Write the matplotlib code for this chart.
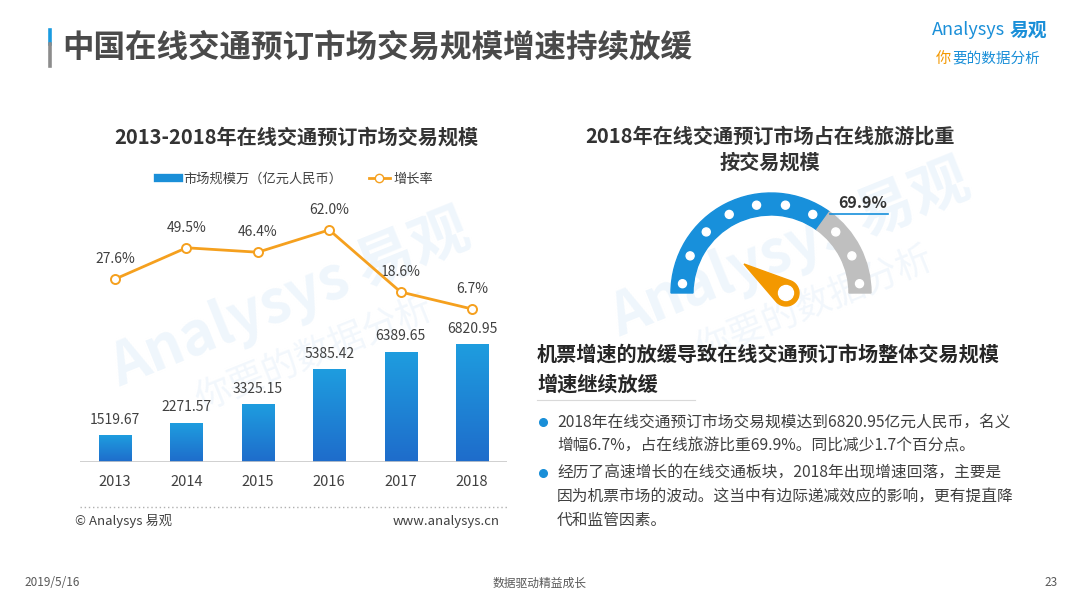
import matplotlib

matplotlib.use("Agg")
import matplotlib.pyplot as plt
import numpy as np
from matplotlib.colors import LinearSegmentedColormap
from matplotlib.lines import Line2D
from matplotlib.patches import Circle, Polygon, Wedge

plt.rcParams["font.family"] = ["Noto Sans CJK SC", "DejaVu Sans"]

# data
years = ["2013", "2014", "2015", "2016", "2017", "2018"]
market_size = [1519.67, 2271.57, 3325.15, 5385.42, 6389.65, 6820.95]
growth_rate = [27.6, 49.5, 46.4, 62.0, 18.6, 6.7]
share_2018 = 69.9

title = "中国在线交通预订市场交易规模增速持续放缓"
left_title = "2013-2018年在线交通预订市场交易规模"
right_title = "2018年在线交通预订市场占在线旅游比重\n按交易规模"
legend_labels = ["市场规模万（亿元人民币）", "增长率"]
heading = "机票增速的放缓导致在线交通预订市场整体交易规模\n增速继续放缓"
bullets = [
    "2018年在线交通预订市场交易规模达到6820.95亿元人民币，名义\n增幅6.7%，占在线旅游比重69.9%。同比减少1.7个百分点。",
    "经历了高速增长的在线交通板块，2018年出现增速回落，主要是\n因为机票市场的波动。这当中有边际递减效应的影响，更有提直降\n代和监管因素。",
]

W, H = 1080, 607
BLUE = "#1a8fd8"
ORANGE = "#f5a01e"
TXT = "#404040"


def fx(x):
    return x / W


def fy(y):
    return 1 - y / H


fig = plt.figure(figsize=(W / 100, H / 100), dpi=100)
fig.patch.set_facecolor("white")

# faint watermarks
for cx, cy in [(290, 300), (790, 250)]:
    fig.text(fx(cx), fy(cy), "Analysys 易观", fontsize=42, fontweight="bold",
             color="#eff6fc", rotation=22, ha="center", va="center", zorder=-2)
    fig.text(fx(cx + 25), fy(cy + 55), "你要的数据分析", fontsize=26, style="italic",
             color="#f2f7fc", rotation=22, ha="center", va="center", zorder=-2)

# header
fig.add_artist(Line2D([fx(49.5), fx(49.5)], [fy(30), fy(44)], color="#1a9be0", lw=2.6))
fig.add_artist(Line2D([fx(49.5), fx(49.5)], [fy(44), fy(66)], color="#8c8c8c", lw=2.6))
fig.text(fx(62), fy(48), title, fontsize=22.7, fontweight="bold", color="#4a4a4a",
         ha="left", va="center")
fig.text(fx(1005), fy(30), "Analysys", fontsize=13, color=BLUE, ha="right", va="center")
fig.text(fx(1047), fy(30), "易观", fontsize=13.5, fontweight="bold", color=BLUE,
         ha="right", va="center")
fig.text(fx(951), fy(58), "你", fontsize=11, style="italic", color="#f39800",
         ha="right", va="center")
fig.text(fx(952), fy(58), "要的数据分析", fontsize=10.5, style="italic", color=BLUE,
         ha="left", va="center")

# left chart: bars + growth line
ax = fig.add_axes([fx(80), fy(462), (507 - 80) / W, (462 - 180) / H])
ax.patch.set_visible(False)
x = np.arange(len(years))
bars = ax.bar(x, market_size, width=0.45, color="none", zorder=2)
cmap = LinearSegmentedColormap.from_list("bar", ["#1f6ccb", "#1e9ddf"])
grad = np.linspace(0, 1, 256).reshape(-1, 1)
for rect in bars:
    x0, w, h = rect.get_x(), rect.get_width(), rect.get_height()
    ax.imshow(grad, cmap=cmap, extent=[x0, x0 + w, 0, h], origin="lower",
              aspect="auto", zorder=2)
for xi, v in zip(x, market_size):
    ax.annotate(f"{v:.2f}", (xi, v), xytext=(0, 16), textcoords="offset pixels",
                ha="center", va="center", fontsize=10, color=TXT)
ax.set_xlim(-0.49, 5.49)
ax.set_ylim(0, 16440)
ax.axhline(0, color="#c8c8c8", lw=1.2, zorder=3)
for s in ax.spines.values():
    s.set_visible(False)
ax.set_yticks([])
ax.set_xticks(x)
ax.set_xticklabels(years, fontsize=10.5, color=TXT)
ax.tick_params(axis="x", length=0, pad=9)

ax2 = ax.twinx()
ax2.plot(x, growth_rate, color=ORANGE, lw=2, marker="o", markersize=6.5,
         markerfacecolor="white", markeredgecolor=ORANGE, markeredgewidth=1.4, zorder=4)
for xi, v in zip(x, growth_rate):
    ax2.annotate(f"{v:.1f}%", (xi, v), xytext=(0, 20), textcoords="offset pixels",
                 ha="center", va="center", fontsize=10, color=TXT)
ax2.set_ylim(-100.3, 96.9)
ax2.set_yticks([])
for s in ax2.spines.values():
    s.set_visible(False)

handles = [
    Line2D([], [], color="#1a8fd8", lw=6),
    Line2D([], [], color=ORANGE, lw=2, marker="o", markersize=6,
           markerfacecolor="white", markeredgecolor=ORANGE),
]
fig.legend(handles, legend_labels, loc="center", bbox_to_anchor=(fx(296), fy(179)),
           ncol=2, frameon=False, fontsize=9.5, handlelength=1.6, handletextpad=0.3,
           columnspacing=2.0, labelcolor=TXT)

fig.text(fx(296), fy(137), left_title, fontsize=14.5, fontweight="bold", color="#333333",
         ha="center", va="center")
fig.add_artist(Line2D([fx(80), fx(507)], [fy(507), fy(507)], color="#b0b0b0",
                      lw=1, ls=(0, (1, 2))))
fig.text(fx(75), fy(521), "© Analysys 易观", fontsize=9.5, color=TXT, ha="left", va="center")
fig.text(fx(500), fy(521), "www.analysys.cn", fontsize=9.5, color=TXT, ha="right", va="center")

# right: gauge
fig.text(fx(770), fy(149), right_title, fontsize=14.5, fontweight="bold", color="#333333",
         ha="center", va="center", linespacing=1.25)
gx = fig.add_axes([fx(640), fy(320), 300 / W, 140 / H])
gx.set_xlim(-131, 169)
gx.set_ylim(-27, 113)
gx.set_aspect("equal")
gx.axis("off")
r_out, r_in = 100, 78
split = 180 * (1 - share_2018 / 100)
gx.add_patch(Wedge((0, 0), r_out, split, 180, width=r_out - r_in, color="#1890db"))
gx.add_patch(Wedge((0, 0), r_out, 0, split, width=r_out - r_in, color="#bfbfbf"))
for a in np.radians(np.linspace(6, 174, 10)):
    gx.add_patch(Circle((89 * np.cos(a), 89 * np.sin(a)), 4, color="white"))
sx, sy = r_out * np.cos(np.radians(split)), r_out * np.sin(np.radians(split))
gx.plot([sx, 117], [sy - 2, sy - 2], color="#1890db", lw=1.2)
gx.text(116, sy + 1, f"{share_2018:.1f}%", fontsize=11.5, fontweight="bold", color="#333333",
        ha="right", va="bottom")

# needle
tip = np.array([-27.0, 29.0])
hub = np.array([15.0, 0.0])
hr = 13.0
d = tip - hub
L = np.hypot(*d)
base = np.arctan2(d[1], d[0])
half = np.arccos(hr / L)
arc = np.linspace(base + half, base + 2 * np.pi - half, 60)
pts = np.column_stack([hub[0] + hr * np.cos(arc), hub[1] + hr * np.sin(arc)])
pts = np.vstack([pts, tip])
gx.add_patch(Polygon(pts, closed=True, color="#f39800"))
gx.add_patch(Circle(tuple(hub), 7.5, color="white"))

# right text block
fig.text(fx(537), fy(369), heading, fontsize=14.5, fontweight="bold", color="#262626",
         ha="left", va="center", linespacing=1.55)
fig.add_artist(Line2D([fx(537), fx(695)], [fy(400), fy(400)], color="#d9d9d9", lw=0.8))
for by, txt in zip([422, 473], bullets):
    fig.add_artist(Line2D([fx(543)], [fy(by)], marker="o", markersize=5.5,
                          color="#1a8fd8", lw=0))
    fig.text(fx(557), fy(by - 8), txt, fontsize=11.3, color=TXT, ha="left", va="top",
             linespacing=1.5)

# footer
fig.text(fx(24), fy(583), "2019/5/16", fontsize=8.5, color="#595959", ha="left", va="center")
fig.text(fx(540), fy(583), "数据驱动精益成长", fontsize=8.5, color="#595959",
         ha="center", va="center")
fig.text(fx(1058), fy(583), "23", fontsize=8.5, color="#595959", ha="right", va="center")

fig.savefig("out.png", dpi=100)
